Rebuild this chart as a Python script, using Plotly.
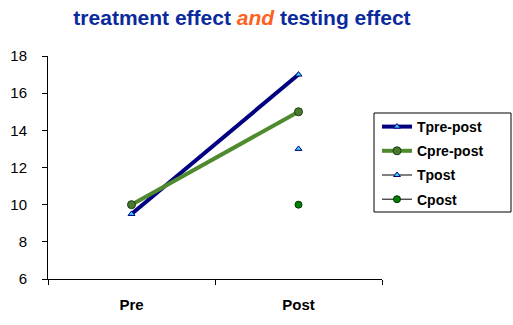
import plotly.graph_objects as go

categories = ["Pre", "Post"]
tpre_post = [9.5, 17]
cpre_post = [10, 15]
tpost_x = ["Post"]
tpost = [13]
cpost_x = ["Post"]
cpost = [10]
y_ticks = [6, 8, 10, 12, 14, 16, 18]

FONT = "Arial, Liberation Sans, sans-serif"

# plot area in pixels (for legend frame placement)
L, R, T, B = 48, 382, 56, 279
W, H = R - L, B - T

fig = go.Figure()
fig.add_trace(go.Scatter(x=categories, y=tpre_post, name="Tpre-post", mode="lines+markers",
                         legendgroup="a",
                         line=dict(color="#000080", width=4),
                         marker=dict(symbol="triangle-up", size=6, color="#33ccff",
                                     line=dict(color="#000080", width=1))))
fig.add_trace(go.Scatter(x=categories, y=cpre_post, name="Cpre-post", mode="lines+markers",
                         legendgroup="b",
                         line=dict(color="#4f8a2f", width=4),
                         marker=dict(symbol="circle", size=8, color="#4a7a30",
                                     line=dict(color="#1a3a10", width=1))))
fig.add_trace(go.Scatter(x=tpost_x, y=tpost, name="Tpost", mode="lines+markers",
                         legendgroup="c",
                         line=dict(color="black", width=1),
                         marker=dict(symbol="triangle-up", size=6, color="#33ccff",
                                     line=dict(color="#000080", width=1))))
fig.add_trace(go.Scatter(x=cpost_x, y=cpost, name="Cpost", mode="lines+markers",
                         legendgroup="d",
                         line=dict(color="black", width=1),
                         marker=dict(symbol="circle", size=7, color="#008000",
                                     line=dict(color="#003300", width=1))))

fig.add_shape(type="rect", xref="paper", yref="paper",
              x0=(374 - L) / W, x1=(511 - L) / W,
              y0=(B - 212) / H, y1=(B - 113) / H,
              line=dict(color="black", width=1), fillcolor="rgba(0,0,0,0)")

fig.update_layout(
    width=513, height=325,
    margin=dict(l=L, r=513 - R, t=T, b=325 - B, autoexpand=False),
    paper_bgcolor="white", plot_bgcolor="white",
    font=dict(family=FONT, color="black"),
    title=dict(
        text="<b>treatment effect <i><span style='color:#ff6020'>and</span></i> testing effect</b>",
        font=dict(size=21, color="#0b2a9e", family=FONT),
        x=242/513, xanchor="center", xref="container",
        y=1-18/325, yanchor="middle", yref="container"),
    showlegend=True,
    legend=dict(
        xref="container", yref="container",
        x=377/513, y=1-111/325, xanchor="left", yanchor="top",
        borderwidth=0, bgcolor="rgba(0,0,0,0)",
        font=dict(size=14, family=FONT, color="black", weight="bold"),
        itemwidth=30, tracegroupgap=3,
    ),
    xaxis=dict(
        type="category", categoryorder="array", categoryarray=categories,
        range=[-0.5, 1.5], showgrid=False, zeroline=False,
        showline=True, linecolor="black", linewidth=1,
        ticks="outside", ticklen=5, tickcolor="black", tickson="boundaries",
        tickfont=dict(size=15, family=FONT, weight="bold"),
        ticklabelstandoff=12,
    ),
    yaxis=dict(
        range=[6, 18], tickvals=y_ticks, showgrid=False, zeroline=False,
        showline=True, linecolor="black", linewidth=1,
        ticks="outside", ticklen=5, tickcolor="black",
        tickfont=dict(size=15, family=FONT),
        ticklabelstandoff=12,
    ),
)

fig.write_html("out.html")
